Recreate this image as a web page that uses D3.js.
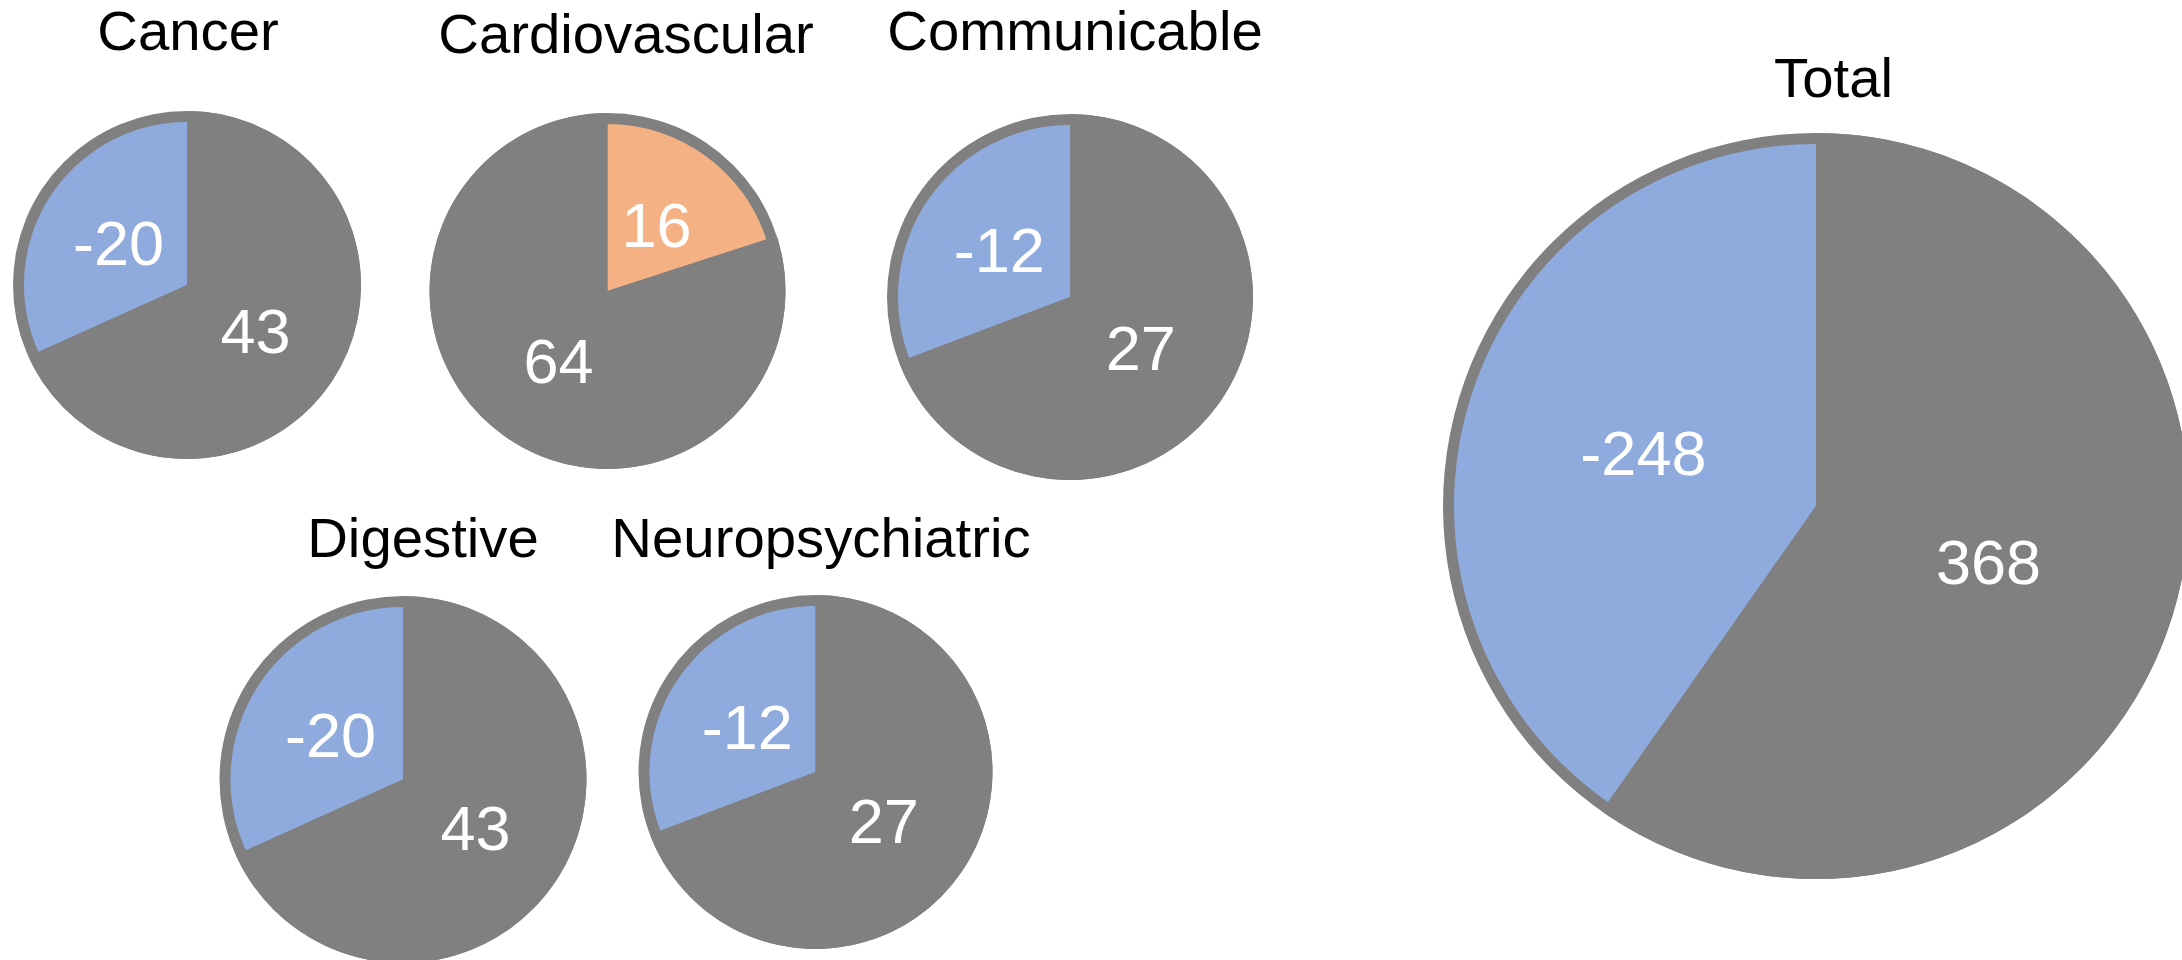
<!DOCTYPE html>
<html>
<head>
<meta charset="utf-8">
<script src="https://cdn.jsdelivr.net/npm/d3@7"></script>
<style>
  html, body { margin: 0; padding: 0; background: #ffffff; }
  svg { display: block; }
</style>
</head>
<body>
<svg id="chart" width="2182" height="960"></svg>
<script>
// ---- data ----
const categories   = ["Cancer", "Cardiovascular", "Communicable", "Digestive", "Neuropsychiatric", "Total"];
const changeValues = [-20, 16, -12, -20, -12, -248];
const baseValues   = [43, 64, 27, 43, 27, 368];

// ---- layout (positions / sizes, kept apart from the data) ----
const layout = [
  { cx: 187,   cy: 285,   r: 174,   tx: 188,    ty: 50 },
  { cx: 607.5, cy: 291,   r: 178,   tx: 626,    ty: 53 },
  { cx: 1070,  cy: 297,   r: 183,   tx: 1075,   ty: 50 },
  { cx: 403,   cy: 779.5, r: 183.5, tx: 423,    ty: 556.5 },
  { cx: 815.5, cy: 772,   r: 177,   tx: 821,    ty: 556.5 },
  { cx: 1816,  cy: 506,   r: 373,   tx: 1833.5, ty: 97 }
];
const ring = 11;
const colors = { base: "#808080", neg: "#8FAADC", pos: "#F4B183" };
const font = "'Liberation Sans', Arial, Helvetica, sans-serif";

const svg = d3.select("#chart");

categories.forEach((cat, i) => {
  const L = layout[i];
  const c = changeValues[i], b = baseValues[i];
  const frac = Math.abs(c) / (Math.abs(c) + b);
  const start = c < 0 ? -2 * Math.PI * frac : 0;

  const pie = d3.pie()
    .sort(null)
    .value(d => d.v)
    .startAngle(start)
    .endAngle(start + 2 * Math.PI);

  const slices = pie([
    { key: "change", v: Math.abs(c), label: String(c), fill: c < 0 ? colors.neg : colors.pos },
    { key: "base",   v: b,           label: String(b), fill: colors.base }
  ]);

  const g = svg.append("g").attr("transform", `translate(${L.cx},${L.cy})`);

  // full grey disc (forms the rim around the coloured slice)
  g.append("path")
    .attr("d", d3.arc().innerRadius(0).outerRadius(L.r).startAngle(0).endAngle(2 * Math.PI)())
    .attr("fill", colors.base);

  const arcInner = d3.arc().innerRadius(0).outerRadius(L.r - ring);
  const arcOuter = d3.arc().innerRadius(0).outerRadius(L.r);

  g.selectAll("path.slice")
    .data(slices)
    .join("path")
    .attr("class", "slice")
    .attr("d", d => d.data.key === "change" ? arcInner(d) : arcOuter(d))
    .attr("fill", d => d.data.fill);

  g.selectAll("text.lbl")
    .data(slices)
    .join("text")
    .attr("class", "lbl")
    .attr("transform", d => `translate(${arcInner.centroid(d)})`)
    .attr("text-anchor", "middle")
    .attr("dy", "0.38em")
    .attr("fill", "#ffffff")
    .style("font-family", font)
    .style("font-size", "63px")
    .text(d => d.data.label);

  svg.append("text")
    .attr("x", L.tx)
    .attr("y", L.ty)
    .attr("text-anchor", "middle")
    .attr("fill", "#000000")
    .style("font-family", font)
    .style("font-size", "56.3px")
    .text(cat);
});
</script>
</body>
</html>
